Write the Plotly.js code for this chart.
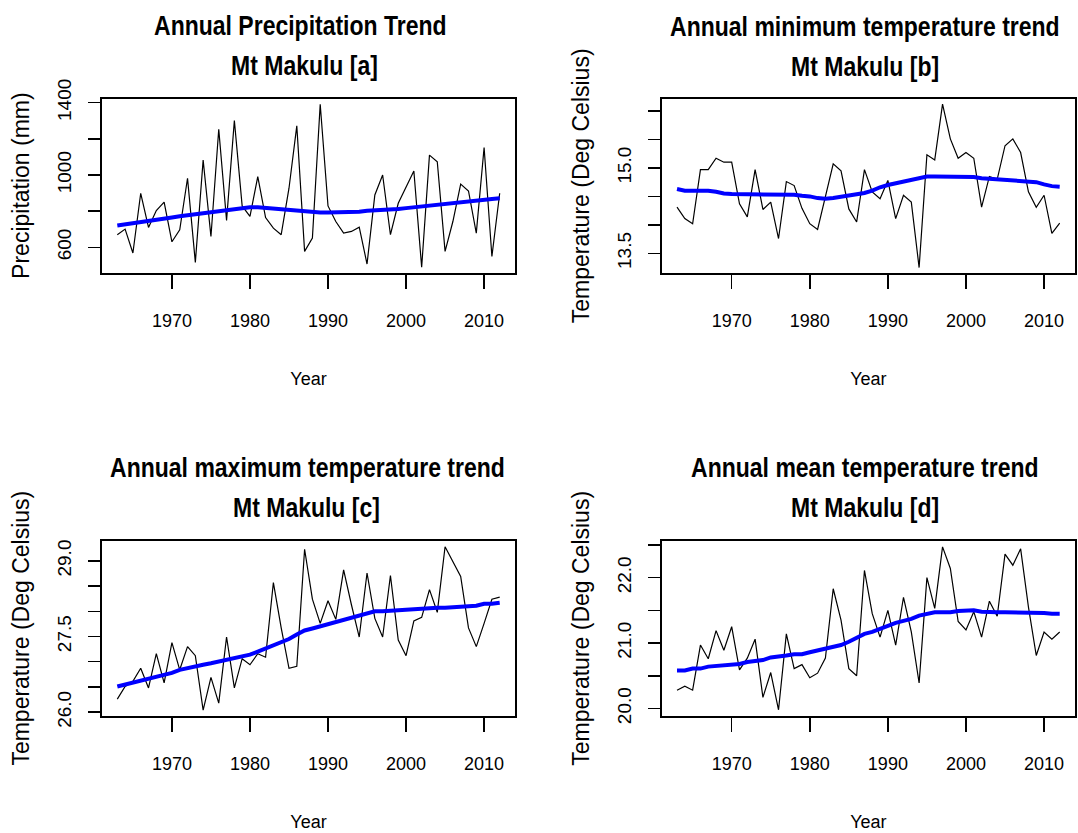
<!DOCTYPE html>
<html>
<head>
<meta charset="utf-8">
<script src="https://cdn.plot.ly/plotly-3.0.1.min.js"></script>
<style>
html,body{margin:0;padding:0;background:#fff;}
#chart{width:1078px;height:833px;}
#chart text.annotation-text{transform-box:fill-box;transform-origin:center;transform:scaleY(1.2);}
</style>
</head>
<body>
<div id="chart"></div>
<script>
// ---------- data ----------
var years = [1963,1964,1965,1966,1967,1968,1969,1970,1971,1972,
             1973,1974,1975,1976,1977,1978,1979,1980,1981,1982,
             1983,1984,1985,1986,1987,1988,1989,1990,1991,1992,
             1993,1994,1995,1996,1997,1998,1999,2000,2001,2002,
             2003,2004,2005,2006,2007,2008,2009,2010,2011,2012];

var precip = [670,701,569,899,710,804,850,631,697,982,
              517,1083,660,1253,749,1301,829,771,991,765,
              706,670,927,1272,578,651,1391,829,743,679,
              688,712,508,890,1000,670,844,936,1022,490,
              1110,1073,578,743,950,912,679,1152,550,899];
var precipTrend = [721,727,730,737,745,752,757,765,772,778,
                   785,790,797,802,807,812,818,822,822,818,
                   813,811,808,803,797,794,793,793,793,793,
                   793,797,803,804,805,808,812,817,822,826,
                   831,836,841,846,850,853,857,863,868,871];

var tmin = [14.31,14.11,14.02,14.97,14.97,15.17,15.10,15.10,14.37,14.14,
            14.97,14.27,14.40,13.76,14.76,14.69,14.29,14.02,13.92,14.50,
            15.07,14.95,14.28,14.05,14.97,14.58,14.46,14.78,14.11,14.52,
            14.40,13.25,15.23,15.14,16.12,15.51,15.17,15.27,15.17,14.31,
            14.85,14.80,15.39,15.51,15.27,14.58,14.31,14.52,13.85,14.03];
var tminTrend = [14.63,14.60,14.60,14.60,14.60,14.58,14.55,14.54,14.54,14.54,
                 14.54,14.53,14.53,14.53,14.53,14.53,14.51,14.50,14.47,14.46,
                 14.47,14.49,14.51,14.53,14.56,14.60,14.66,14.70,14.73,14.76,
                 14.79,14.82,14.85,14.85,14.85,14.85,14.85,14.85,14.84,14.82,
                 14.81,14.81,14.80,14.79,14.77,14.77,14.75,14.71,14.68,14.67];

var tmax = [26.26,26.51,26.61,26.87,26.48,27.16,26.58,27.38,26.84,27.30,
            27.12,26.04,26.69,26.18,27.49,26.48,27.06,26.94,27.16,27.09,
            28.57,27.67,26.87,26.91,29.23,28.24,27.76,28.21,27.84,28.82,
            28.13,27.49,28.76,27.86,27.49,28.71,27.43,27.12,27.81,27.88,
            28.43,27.98,29.28,29.00,28.69,27.67,27.30,27.76,28.24,28.28];
var tmaxTrend = [26.51,26.55,26.59,26.62,26.66,26.69,26.73,26.78,26.84,26.88,
                 26.91,26.94,26.97,27.00,27.03,27.06,27.09,27.14,27.20,27.26,
                 27.32,27.38,27.45,27.54,27.62,27.66,27.70,27.75,27.80,27.84,
                 27.88,27.92,27.96,28.00,28.00,28.01,28.02,28.03,28.03,28.05,
                 28.07,28.07,28.07,28.08,28.10,28.10,28.11,28.15,28.15,28.17];

var tmean = [20.28,20.34,20.28,20.97,20.76,21.19,20.89,21.25,20.59,20.77,
             21.06,20.17,20.55,19.98,21.14,20.61,20.67,20.47,20.54,20.77,
             21.83,21.35,20.61,20.50,22.11,21.45,21.09,21.50,20.97,21.70,
             21.17,20.39,22.00,21.53,22.47,22.14,21.33,21.20,21.48,21.09,
             21.64,21.41,22.36,22.19,22.44,21.55,20.81,21.17,21.06,21.17];
var tmeanTrend = [20.58,20.58,20.61,20.61,20.64,20.65,20.66,20.67,20.68,20.71,
                  20.73,20.74,20.78,20.79,20.81,20.83,20.83,20.86,20.89,20.92,
                  20.94,20.97,21.02,21.08,21.14,21.17,21.22,21.27,21.31,21.34,
                  21.37,21.42,21.45,21.47,21.47,21.47,21.49,21.50,21.50,21.48,
                  21.47,21.47,21.47,21.47,21.47,21.47,21.47,21.46,21.45,21.45];

// tick values / labels
var xTickVals = [1970,1980,1990,2000,2010];
var xTickText = ['1970','1980','1990','2000','2010'];
var yTickValsA = [600,800,1000,1200,1400];
var yTickTextA = ['600','','1000','','1400'];
var yTickValsB = [13.5,14.0,14.5,15.0,15.5,16.0];
var yTickTextB = ['13.5','','','15.0','',''];
var yTickValsC = [26.0,26.5,27.0,27.5,28.0,28.5,29.0];
var yTickTextC = ['26.0','','','27.5','','','29.0'];
var yTickValsD = [20.0,20.5,21.0,21.5,22.0,22.5];
var yTickTextD = ['20.0','','21.0','','22.0',''];

var titlesLine1 = ['Annual Precipitation Trend','Annual minimum temperature trend',
                   'Annual maximum temperature trend','Annual mean temperature trend'];
var titlesLine2 = ['Mt Makulu [a]','Mt Makulu [b]','Mt Makulu [c]','Mt Makulu [d]'];
var yTitles = ['Precipitation (mm)','Temperature (Deg Celsius)',
               'Temperature (Deg Celsius)','Temperature (Deg Celsius)'];
var xTitle = 'Year';

// ---------- layout helpers ----------
var W = 1078, H = 833;
var SANS = '"Liberation Sans", Arial, Helvetica, sans-serif';

function px2x(p){ return p / W; }
function px2y(p){ return 1 - p / H; }

// plot boxes in pixels [left, right, top, bottom]
var boxes = [
  [102, 515, 98.5, 272.7],
  [661.7, 1075, 99, 272.7],
  [102, 515, 540.7, 715.7],
  [661.7, 1075, 541, 715.7]
];
var yRanges = [[460,1423],[13.16,16.21],[25.93,29.40],[19.89,22.56]];
var yTV = [yTickValsA, yTickValsB, yTickValsC, yTickValsD];
var yTT = [yTickTextA, yTickTextB, yTickTextC, yTickTextD];
var series = [[precip, precipTrend],[tmin, tminTrend],[tmax, tmaxTrend],[tmean, tmeanTrend]];
var titleCenters = [[300,304],[865,865],[307,306],[865,865]];

var data = [];
var layout = {
  width: W, height: H,
  margin: {l:0, r:0, t:0, b:0},
  paper_bgcolor: '#ffffff',
  plot_bgcolor: '#ffffff',
  showlegend: false,
  annotations: []
};

for (var i = 0; i < 4; i++) {
  var sfx = i === 0 ? '' : String(i + 1);
  var b = boxes[i];
  var xa = 'x' + sfx, ya = 'y' + sfx;
  data.push({
    x: years, y: series[i][0], xaxis: xa, yaxis: ya,
    type: 'scatter', mode: 'lines',
    line: {color: '#000000', width: 1.2},
    hoverinfo: 'skip'
  });
  data.push({
    x: years, y: series[i][1], xaxis: xa, yaxis: ya,
    type: 'scatter', mode: 'lines',
    line: {color: '#0000ff', width: 4},
    hoverinfo: 'skip'
  });
  layout['xaxis' + sfx] = {
    domain: [px2x(b[0]), px2x(b[1])],
    anchor: ya,
    range: [1961.04, 2013.96],
    tickmode: 'array', tickvals: xTickVals, ticktext: xTickText,
    ticks: 'outside', ticklen: 14, tickwidth: 1.5, tickcolor: '#000',
    showline: true, mirror: true, linecolor: '#000', linewidth: 2,
    showgrid: false, zeroline: false,
    tickfont: {family: SANS, size: 18, color: '#000'},
    ticklabelstandoff: 17,
    title: {text: xTitle, font: {family: SANS, size: 18, color: '#000'}, standoff: 42}
  };
  layout['yaxis' + sfx] = {
    domain: [px2y(b[3]), px2y(b[2])],
    anchor: xa,
    range: yRanges[i],
    tickmode: 'array', tickvals: yTV[i], ticktext: yTT[i],
    ticks: 'outside', ticklen: 12, tickwidth: 1.5, tickcolor: '#000',
    tickangle: -90,
    showline: true, mirror: true, linecolor: '#000', linewidth: 2,
    showgrid: false, zeroline: false,
    tickfont: {family: SANS, size: 19, color: '#000'},
    ticklabelstandoff: 9,
    title: {text: yTitles[i], font: {family: SANS, size: 23, color: '#000'}, standoff: 18}
  };
  var tl1y = b[2] - 73.5, tl2y = b[2] - 33.5;
  layout.annotations.push({
    text: '<b>' + titlesLine1[i] + '</b>', xref: 'paper', yref: 'paper',
    x: px2x(titleCenters[i][0]), y: px2y(tl1y), xanchor: 'center', yanchor: 'middle',
    showarrow: false, font: {family: SANS, size: 23, color: '#000'}
  });
  layout.annotations.push({
    text: '<b>' + titlesLine2[i] + '</b>', xref: 'paper', yref: 'paper',
    x: px2x(titleCenters[i][1]), y: px2y(tl2y), xanchor: 'center', yanchor: 'middle',
    showarrow: false, font: {family: SANS, size: 23, color: '#000'}
  });
}

Plotly.newPlot('chart', data, layout, {staticPlot: true, displayModeBar: false});
</script>
</body>
</html>
